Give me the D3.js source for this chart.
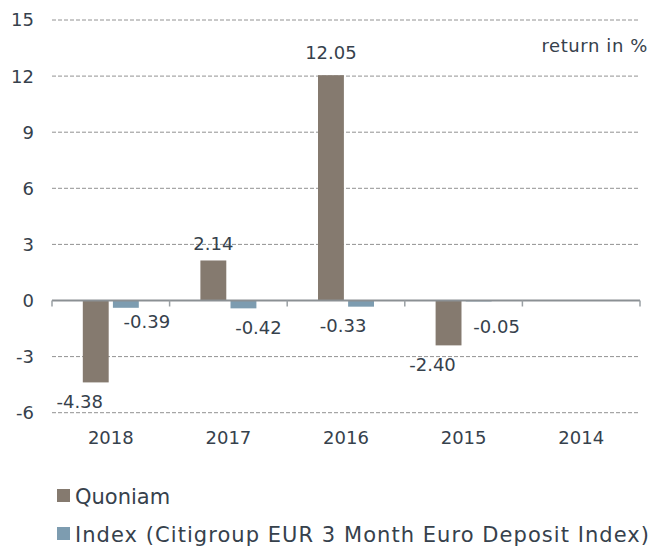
<!DOCTYPE html>
<html>
<head>
<meta charset="utf-8">
<script src="https://cdn.jsdelivr.net/npm/d3@7"></script>
<style>
  body { margin: 0; background: #fff; }
  svg text { font-family: "DejaVu Sans", Verdana, sans-serif; fill: #36414c; }
</style>
</head>
<body>
<div id="chart"></div>
<script>
// data
const years = ["2018", "2017", "2016", "2015", "2014"];
const quoniam = [-4.38, 2.14, 12.05, -2.40, null];
const index = [-0.39, -0.42, -0.33, -0.05, null];
const yTicks = [-6, -3, 0, 3, 6, 9, 12, 15];
const seriesNames = ["Quoniam", "Index (Citigroup EUR 3 Month Euro Deposit Index)"];

// label nudges (layout only), [dx, dy] from the bar end
const quoniamNudge = [[-16, 26], [0, -10], [0, -16], [-16, 26], [0, 0]];
const indexNudge = [[21, 20], [15, 26], [-18, 25], [18, 32], [0, 0]];

const colors = ["#857a6f", "#7d9cb0"];

const width = 659, height = 548;
const plot = { left: 52, right: 640, top: 20, bottom: 412.7 };

const svg = d3.select("#chart")
    .append("svg")
    .attr("width", width)
    .attr("height", height);

const x = d3.scaleBand()
    .domain(years)
    .range([plot.left, plot.right])
    .padding(0);

const y = d3.scaleLinear()
    .domain([-6, 15])
    .range([plot.bottom, plot.top]);

const bw = x.bandwidth();
const xSub = d3.scaleBand()
    .domain([0, 1])
    .range([bw / 2 - 28, bw / 2 + 28])
    .paddingInner(0.14);

// gridlines
svg.append("g")
    .selectAll("line")
    .data(yTicks.filter(d => d !== 0))
    .enter()
    .append("line")
    .attr("x1", plot.left)
    .attr("x2", plot.right - 2)
    .attr("y1", d => y(d))
    .attr("y2", d => y(d))
    .attr("stroke", "#929292")
    .attr("stroke-width", 1)
    .attr("stroke-dasharray", "4,2");

// y labels
svg.append("g")
    .selectAll("text")
    .data(yTicks)
    .enter()
    .append("text")
    .attr("x", 34)
    .attr("y", d => y(d))
    .attr("dy", "0.36em")
    .attr("text-anchor", "end")
    .style("font-size", "18px")
    .text(d => d);

// bars
const rows = years.map((yr, i) => ({ yr, i, vals: [quoniam[i], index[i]] }));

const groups = svg.append("g")
    .selectAll("g")
    .data(rows)
    .enter()
    .append("g")
    .attr("transform", d => `translate(${x(d.yr)},0)`);

groups.selectAll("rect")
    .data(d => d.vals.map((v, k) => ({ v, k })).filter(e => e.v !== null))
    .enter()
    .append("rect")
    .attr("x", e => xSub(e.k))
    .attr("width", xSub.bandwidth())
    .attr("y", e => y(Math.max(0, e.v)))
    .attr("height", e => Math.abs(y(e.v) - y(0)))
    .attr("fill", e => colors[e.k]);

// zero axis with category ticks
const axis = svg.append("g");
axis.append("line")
    .attr("x1", plot.left)
    .attr("x2", plot.right)
    .attr("y1", y(0))
    .attr("y2", y(0))
    .attr("stroke", "#8b9094")
    .attr("stroke-width", 2);
axis.selectAll(".tick")
    .data(years.concat(["end"]))
    .enter()
    .append("line")
    .attr("x1", (d, i) => plot.left + i * bw)
    .attr("x2", (d, i) => plot.left + i * bw)
    .attr("y1", y(0))
    .attr("y2", y(0) + 6)
    .attr("stroke", "#9aa0a4")
    .attr("stroke-width", 1.5);

// value labels
groups.each(function(d) {
    const g = d3.select(this);
    d.vals.forEach((v, k) => {
        if (v === null) return;
        const nudge = (k === 0 ? quoniamNudge : indexNudge)[d.i];
        g.append("text")
            .attr("x", xSub(k) + xSub.bandwidth() / 2 + nudge[0])
            .attr("y", y(v) + nudge[1])
            .attr("text-anchor", "middle")
            .style("font-size", "18px")
            .text(v.toFixed(2));
    });
});

// x labels
svg.append("g")
    .selectAll("text")
    .data(years)
    .enter()
    .append("text")
    .attr("x", d => x(d) + bw / 2)
    .attr("y", 444)
    .attr("text-anchor", "middle")
    .style("font-size", "18px")
    .text(d => d);

// unit note
svg.append("text")
    .attr("x", 648)
    .attr("y", 52)
    .attr("text-anchor", "end")
    .style("font-size", "18px")
    .style("letter-spacing", "0.6px")
    .text("return in %");

// legend
const legend = svg.append("g")
    .selectAll("g")
    .data(seriesNames)
    .enter()
    .append("g")
    .attr("transform", (d, i) => `translate(57,${496 + i * 38})`);

legend.append("rect")
    .attr("x", 0)
    .attr("y", -7)
    .attr("width", 13)
    .attr("height", 13)
    .attr("fill", (d, i) => colors[i]);

legend.append("text")
    .attr("x", 18)
    .attr("y", 0)
    .attr("dy", "0.36em")
    .style("font-size", "21px")
    .style("letter-spacing", (d, i) => i ? "1.05px" : "0px")
    .text(d => d);
</script>
</body>
</html>
